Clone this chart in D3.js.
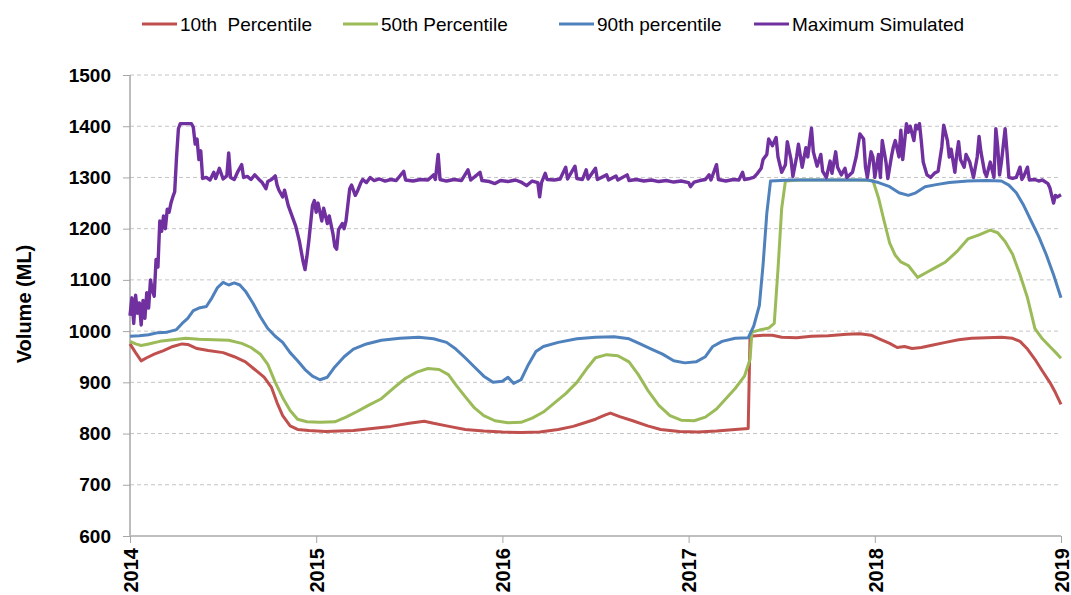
<!DOCTYPE html>
<html>
<head>
<meta charset="utf-8">
<script src="https://cdn.jsdelivr.net/npm/d3@7"></script>
<style>
  body { margin: 0; background: #fff; font-family: "Liberation Sans", Arial, sans-serif; }
  #graphicContainer { width: 1071px; height: 595px; overflow: hidden; }
  .y .tick text { font-size: 19px; font-weight: bold; fill: #000; }
  .x .tick text { font-size: 20px; font-weight: bold; fill: #000; }
  .keyText { font-size: 19px; fill: #000; }
</style>
</head>
<body>
<div id="graphicContainer"></div>
<script>
// series as [decimal year, volume ML]
var p10 = [[2014.00,975],[2014.03,958],[2014.06,942],[2014.09,948],[2014.13,955],[2014.18,962],[2014.23,970],[2014.28,975],[2014.31,974],[2014.36,966],[2014.42,962],[2014.50,958],[2014.56,950],[2014.62,940],[2014.67,925],[2014.72,910],[2014.76,890],[2014.79,860],[2014.82,835],[2014.86,815],[2014.90,808],[2014.96,806],[2015.05,804],[2015.20,806],[2015.30,810],[2015.40,814],[2015.50,820],[2015.58,824],[2015.63,820],[2015.70,815],[2015.80,808],[2015.90,805],[2016.00,803],[2016.10,802],[2016.20,803],[2016.30,808],[2016.38,814],[2016.45,822],[2016.50,828],[2016.55,836],[2016.58,840],[2016.63,833],[2016.70,825],[2016.78,815],[2016.85,808],[2016.95,804],[2017.05,803],[2017.15,805],[2017.25,808],[2017.32,810],[2017.33,990],[2017.40,992],[2017.45,992],[2017.50,988],[2017.58,987],[2017.66,990],[2017.75,991],[2017.85,994],[2017.92,995],[2017.98,992],[2018.03,984],[2018.08,976],[2018.12,968],[2018.16,970],[2018.20,966],[2018.25,968],[2018.30,972],[2018.38,978],[2018.45,983],[2018.52,986],[2018.60,987],[2018.68,988],[2018.74,986],[2018.78,980],[2018.82,965],[2018.86,945],[2018.90,922],[2018.94,900],[2018.97,880],[2019.00,857]]

var p50 = [[2014.00,980],[2014.03,975],[2014.06,972],[2014.10,975],[2014.16,980],[2014.23,983],[2014.30,986],[2014.37,984],[2014.45,983],[2014.53,982],[2014.60,976],[2014.65,968],[2014.70,955],[2014.74,935],[2014.78,900],[2014.82,870],[2014.86,845],[2014.90,828],[2014.95,823],[2015.02,822],[2015.10,823],[2015.16,832],[2015.22,843],[2015.28,855],[2015.35,868],[2015.42,890],[2015.48,908],[2015.54,920],[2015.60,927],[2015.66,925],[2015.71,915],[2015.75,895],[2015.80,872],[2015.85,850],[2015.90,835],[2015.96,825],[2016.03,821],[2016.10,822],[2016.16,830],[2016.22,842],[2016.28,860],[2016.34,878],[2016.40,900],[2016.46,930],[2016.50,948],[2016.56,954],[2016.62,952],[2016.68,940],[2016.73,915],[2016.78,885],[2016.84,855],[2016.90,835],[2016.96,826],[2017.03,825],[2017.09,832],[2017.15,848],[2017.20,868],[2017.25,888],[2017.30,912],[2017.33,945],[2017.34,998],[2017.38,1002],[2017.43,1006],[2017.46,1015],[2017.48,1120],[2017.50,1240],[2017.52,1293],[2017.60,1295],[2017.75,1295],[2017.90,1295],[2017.99,1294],[2018.02,1260],[2018.05,1215],[2018.08,1172],[2018.11,1148],[2018.14,1135],[2018.18,1128],[2018.23,1105],[2018.28,1115],[2018.33,1125],[2018.38,1135],[2018.44,1155],[2018.50,1180],[2018.56,1188],[2018.62,1197],[2018.66,1192],[2018.70,1175],[2018.74,1150],[2018.78,1110],[2018.82,1065],[2018.86,1005],[2018.90,985],[2018.94,970],[2018.98,955],[2019.00,947]]

var p90 = [[2014.00,990],[2014.05,991],[2014.10,993],[2014.15,997],[2014.20,998],[2014.25,1003],[2014.28,1015],[2014.31,1025],[2014.34,1040],[2014.37,1045],[2014.41,1048],[2014.44,1065],[2014.47,1085],[2014.50,1095],[2014.53,1090],[2014.56,1094],[2014.59,1090],[2014.62,1078],[2014.66,1055],[2014.70,1028],[2014.74,1005],[2014.78,990],[2014.82,978],[2014.86,958],[2014.90,942],[2014.94,925],[2014.98,912],[2015.02,905],[2015.06,910],[2015.10,930],[2015.15,950],[2015.20,965],[2015.27,975],[2015.35,982],[2015.45,986],[2015.55,988],[2015.63,985],[2015.70,978],[2015.75,965],[2015.80,948],[2015.85,930],[2015.90,912],[2015.95,900],[2016.00,902],[2016.03,910],[2016.06,898],[2016.10,905],[2016.14,935],[2016.18,960],[2016.22,970],[2016.30,978],[2016.40,985],[2016.50,988],[2016.60,989],[2016.68,985],[2016.74,975],[2016.80,965],[2016.86,955],[2016.92,942],[2016.98,938],[2017.04,940],[2017.09,950],[2017.13,970],[2017.18,980],[2017.25,986],[2017.32,987],[2017.35,1010],[2017.38,1050],[2017.40,1130],[2017.42,1230],[2017.44,1293],[2017.55,1295],[2017.70,1295],[2017.85,1295],[2017.96,1295],[2018.02,1290],[2018.08,1282],[2018.13,1270],[2018.18,1265],[2018.22,1270],[2018.27,1282],[2018.33,1286],[2018.40,1290],[2018.50,1293],[2018.60,1294],[2018.68,1293],[2018.72,1285],[2018.76,1270],[2018.80,1245],[2018.84,1215],[2018.88,1185],[2018.92,1150],[2018.96,1110],[2019.00,1065]]

var pMax = [[2014.00,1030],[2014.01,1065],[2014.02,1015],[2014.03,1070],[2014.04,1035],[2014.05,1055],[2014.06,1012],[2014.07,1060],[2014.08,1025],[2014.09,1075],[2014.10,1045],[2014.11,1100],[2014.12,1080],[2014.13,1068],[2014.14,1140],[2014.15,1125],[2014.16,1215],[2014.17,1195],[2014.18,1225],[2014.19,1200],[2014.20,1238],[2014.21,1232],[2014.22,1250],[2014.23,1262],[2014.24,1272],[2014.25,1340],[2014.26,1395],[2014.27,1405],[2014.30,1405],[2014.33,1405],[2014.34,1398],[2014.35,1365],[2014.36,1375],[2014.37,1335],[2014.38,1352],[2014.39,1298],[2014.41,1300],[2014.43,1295],[2014.45,1310],[2014.46,1298],[2014.48,1318],[2014.50,1297],[2014.52,1303],[2014.53,1348],[2014.54,1300],[2014.56,1296],[2014.58,1312],[2014.60,1325],[2014.61,1300],[2014.63,1302],[2014.65,1296],[2014.67,1305],[2014.69,1297],[2014.71,1290],[2014.73,1278],[2014.74,1292],[2014.76,1296],[2014.78,1303],[2014.79,1285],[2014.80,1275],[2014.82,1262],[2014.83,1275],[2014.85,1245],[2014.87,1225],[2014.89,1205],[2014.91,1175],[2014.93,1135],[2014.94,1120],[2014.95,1145],[2014.96,1175],[2014.98,1245],[2014.99,1255],[2015.00,1232],[2015.01,1250],[2015.03,1215],[2015.04,1240],[2015.06,1210],[2015.07,1225],[2015.09,1190],[2015.10,1165],[2015.11,1160],[2015.12,1198],[2015.14,1210],[2015.15,1200],[2015.16,1215],[2015.18,1278],[2015.19,1285],[2015.21,1265],[2015.22,1272],[2015.24,1290],[2015.25,1296],[2015.27,1290],[2015.29,1300],[2015.31,1294],[2015.34,1297],[2015.37,1293],[2015.40,1296],[2015.43,1294],[2015.47,1312],[2015.48,1295],[2015.52,1293],[2015.56,1296],[2015.60,1295],[2015.63,1305],[2015.64,1296],[2015.655,1345],[2015.665,1296],[2015.70,1293],[2015.74,1296],[2015.78,1294],[2015.815,1315],[2015.83,1295],[2015.88,1310],[2015.89,1294],[2015.93,1292],[2015.96,1288],[2015.99,1294],[2016.03,1292],[2016.07,1295],[2016.10,1291],[2016.13,1284],[2016.16,1293],[2016.19,1290],[2016.20,1262],[2016.21,1290],[2016.23,1308],[2016.24,1296],[2016.28,1295],[2016.31,1297],[2016.34,1320],[2016.35,1297],[2016.39,1322],[2016.40,1298],[2016.43,1296],[2016.45,1315],[2016.46,1297],[2016.50,1318],[2016.51,1296],[2016.56,1305],[2016.57,1295],[2016.61,1303],[2016.62,1295],[2016.67,1305],[2016.68,1294],[2016.72,1296],[2016.76,1293],[2016.80,1295],[2016.84,1292],[2016.88,1294],[2016.92,1291],[2016.96,1293],[2017.00,1290],[2017.01,1282],[2017.03,1291],[2017.06,1294],[2017.09,1296],[2017.11,1305],[2017.12,1295],[2017.15,1325],[2017.16,1296],[2017.20,1293],[2017.24,1296],[2017.27,1295],[2017.29,1310],[2017.30,1296],[2017.33,1298],[2017.35,1300],[2017.37,1308],[2017.39,1318],[2017.40,1335],[2017.42,1345],[2017.43,1375],[2017.45,1362],[2017.47,1378],[2017.48,1340],[2017.50,1310],[2017.52,1325],[2017.53,1370],[2017.55,1335],[2017.56,1302],[2017.58,1340],[2017.59,1365],[2017.61,1320],[2017.63,1358],[2017.64,1340],[2017.66,1396],[2017.67,1350],[2017.69,1322],[2017.71,1345],[2017.72,1312],[2017.74,1300],[2017.76,1332],[2017.77,1308],[2017.79,1350],[2017.80,1320],[2017.82,1305],[2017.84,1318],[2017.85,1300],[2017.88,1310],[2017.90,1340],[2017.92,1385],[2017.94,1375],[2017.95,1320],[2017.96,1300],[2017.98,1350],[2017.99,1340],[2018.00,1300],[2018.02,1345],[2018.03,1300],[2018.04,1372],[2018.06,1330],[2018.07,1298],[2018.09,1342],[2018.10,1360],[2018.11,1372],[2018.13,1340],[2018.14,1392],[2018.15,1335],[2018.17,1405],[2018.18,1388],[2018.19,1400],[2018.21,1372],[2018.22,1402],[2018.23,1395],[2018.24,1405],[2018.25,1370],[2018.26,1330],[2018.28,1305],[2018.30,1300],[2018.32,1308],[2018.34,1312],[2018.36,1360],[2018.37,1402],[2018.39,1372],[2018.40,1340],[2018.41,1355],[2018.43,1310],[2018.44,1345],[2018.45,1370],[2018.46,1335],[2018.48,1320],[2018.49,1345],[2018.51,1330],[2018.53,1300],[2018.55,1340],[2018.56,1380],[2018.57,1350],[2018.59,1310],[2018.60,1302],[2018.62,1330],[2018.64,1300],[2018.65,1395],[2018.66,1360],[2018.67,1305],[2018.68,1330],[2018.70,1395],[2018.71,1350],[2018.72,1300],[2018.74,1298],[2018.76,1300],[2018.78,1320],[2018.79,1296],[2018.80,1302],[2018.82,1320],[2018.83,1295],[2018.86,1296],[2018.88,1293],[2018.90,1295],[2018.93,1288],[2018.94,1280],[2018.96,1250],[2018.97,1265],[2018.98,1262],[2019.00,1266]]

var keyNames = ["10th  Percentile", "50th Percentile", "90th percentile", "Maximum Simulated"]
var keyColours = ["#c0504d", "#9bbb59", "#4f81bd", "#7030a0"]
var keyX = [142, 343, 559, 754]
var yTicks = [600, 700, 800, 900, 1000, 1100, 1200, 1300, 1400, 1500]
var xTicks = [2014, 2015, 2016, 2017, 2018, 2019]

var series = [p10, p50, p90, pMax]

var margin = { top: 75, right: 10, bottom: 59, left: 130 }
var plotWidth = 931
var height = 595 - margin.top - margin.bottom

var svg = d3.select("#graphicContainer").append("svg")
  .attr("width", 1071)
  .attr("height", 595)

var features = svg.append("g").attr("transform", "translate(" + margin.left + "," + margin.top + ")")

var x = d3.scaleLinear().domain([2014, 2019]).range([0, plotWidth])
var y = d3.scaleLinear().domain([600, 1500]).range([height, 0])

// gridlines
features.selectAll(".grid")
  .data(yTicks.filter(d => d > 600))
  .enter().append("line")
  .attr("class", "grid")
  .attr("x1", 0)
  .attr("x2", plotWidth)
  .attr("y1", d => y(d))
  .attr("y2", d => y(d))
  .attr("stroke", "#c4c4c4")
  .attr("stroke-width", 1)
  .attr("stroke-dasharray", "4,3")

var yAxis = d3.axisLeft(y).tickValues(yTicks).tickSize(7).tickPadding(12).tickFormat(d3.format("d"))
var xAxis = d3.axisBottom(x).tickValues(xTicks).tickSize(7).tickFormat(d3.format("d"))

var gy = features.append("g").attr("class", "y").call(yAxis)
gy.select(".domain").attr("stroke", "#a6a6a6").attr("stroke-width", 1.5).attr("d", "M0,0V" + height)
gy.selectAll(".tick line").attr("stroke", "#a6a6a6")

var gx = features.append("g").attr("class", "x")
  .attr("transform", "translate(0," + height + ")")
  .call(xAxis)
gx.select(".domain").attr("stroke", "#bfbfbf").attr("stroke-width", 2).attr("d", "M0,0H" + plotWidth)
gx.selectAll(".tick line").attr("stroke", "#a6a6a6")
gx.selectAll(".tick text")
  .attr("transform", "rotate(-90)")
  .attr("x", -12)
  .attr("y", 0)
  .attr("dy", "0.36em")
  .style("text-anchor", "end")

var line = d3.line()
  .x(d => x(d[0]))
  .y(d => y(d[1]))

features.selectAll(".series")
  .data(series)
  .enter().append("path")
  .attr("class", "series")
  .attr("d", d => line(d))
  .attr("fill", "none")
  .attr("stroke", (d, i) => keyColours[i])
  .attr("stroke-width", (d, i) => i == 3 ? 3.4 : 3)
  .attr("stroke-linejoin", "round")

// axis title
svg.append("text")
  .attr("transform", "translate(31,304) rotate(-90)")
  .attr("text-anchor", "middle")
  .style("font-size", "20px")
  .style("font-weight", "bold")
  .text("Volume (ML)")

// key
var chartKey = svg.append("g").attr("class", "chartKey")
keyNames.forEach(function (key, i) {
  chartKey.append("line")
    .attr("x1", keyX[i])
    .attr("x2", keyX[i] + 35)
    .attr("y1", 24)
    .attr("y2", 24)
    .attr("stroke", keyColours[i])
    .attr("stroke-width", 3)
  chartKey.append("text")
    .attr("class", "keyText")
    .attr("x", keyX[i] + 38)
    .attr("y", 24)
    .attr("dy", "0.35em")
    .attr("xml:space", "preserve")
    .text(key)
})
</script>
</body>
</html>
